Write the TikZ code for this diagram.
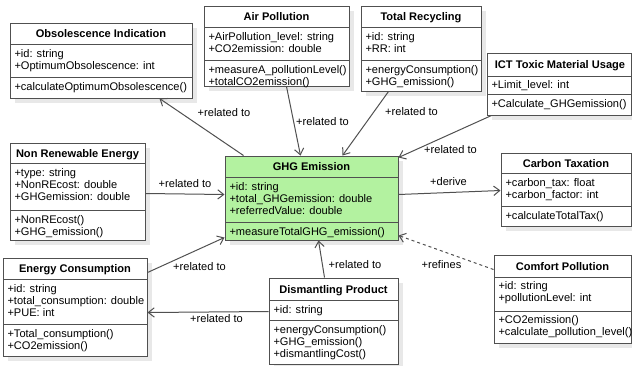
\documentclass[tikz,border=0pt]{standalone}
\usepackage{fontspec}
\setmainfont{Liberation Sans}
\usetikzlibrary{arrows.meta,calc,fit,shadows}

\definecolor{ghggreen}{RGB}{179,242,160}
\definecolor{umlline}{RGB}{80,80,80}
\newcommand\umlfont{\fontsize{8.3}{9.2}\selectfont}

\tikzset{every picture/.style={line width=0.75pt}}

\begin{document}
\begin{tikzpicture}[x=0.75pt,y=0.75pt,yscale=-1,xscale=1,
  classbox/.style={draw=umlline, fill=white, inner sep=0pt,
    drop shadow={shadow xshift=3.75pt, shadow yshift=-3.75pt, fill=black!9, opacity=1}},
  classtitle/.style={anchor=base, inner sep=0pt, font=\umlfont\bfseries},
  members/.style={anchor=north west, inner sep=0pt, align=left, font=\umlfont},
  rel/.style={inner sep=0pt, font=\umlfont},
  assoc/.style={draw=umlline, -{Straight Barb[length=4.5pt,width=7pt]}},
  refine/.style={assoc, dash pattern={on 2.25pt off 2.25pt}}]
\useasboundingbox (0,0) rectangle (632,365);

%Shape: Class [id:obs]
\node[classbox, fit={(10,23) (192,98)}] (obs) {};
\draw[umlline] (10,44) -- (192,44) (10,77) -- (192,77);
\node[classtitle] (obstitle) at (101,37.5) {Obsolescence Indication};
\node[members] (obsattr) at (14,48.5) {+id: string\\+OptimumObsolescence: int};
\node[members] (obsmeth) at (14,81.5) {+calculateOptimumObsolescence()};

%Shape: Class [id:air]
\node[classbox, fit={(204,6) (349,86)}] (air) {};
\draw[umlline] (204,27) -- (349,27) (204,60) -- (349,60);
\node[classtitle] (airtitle) at (276.5,20.5) {Air Pollution};
\node[members] (airattr) at (208,31.5) {+AirPollution\_level: string\\+CO2emission: double};
\node[members] (airmeth) at (208,64.5) {+measureA\_pollutionLevel()\\+totalCO2emission()};

%Shape: Class [id:tot]
\node[classbox, fit={(361,6) (481,91)}] (tot) {};
\draw[umlline] (361,27) -- (481,27) (361,60) -- (481,60);
\node[classtitle] (tottitle) at (421,20.5) {Total Recycling};
\node[members] (totattr) at (365,31.5) {+id: string\\+RR: int};
\node[members] (totmeth) at (365,64.5) {+energyConsumption()\\+GHG\_emission()};

%Shape: Class [id:ict]
\node[classbox, fit={(487,53) (631,115)}] (ict) {};
\draw[umlline] (487,76) -- (631,76) (487,94) -- (631,94);
\node[classtitle] (icttitle) at (560,68.5) {ICT Toxic Material Usage};
\node[members] (ictattr) at (491,80) {+Limit\_level: int};
\node[members] (ictmeth) at (491,98.5) {+Calculate\_GHGemission()};

%Shape: Class [id:nre]
\node[classbox, fit={(10,143) (145,240)}] (nre) {};
\draw[umlline] (10,163) -- (145,163) (10,210) -- (145,210);
\node[classtitle] (nretitle) at (77.5,157) {Non Renewable Energy};
\node[members] (nreattr) at (14,167.5) {+type: string\\+NonREcost: double\\+GHGemission: double};
\node[members] (nremeth) at (14,214.5) {+NonREcost()\\+GHG\_emission()};

%Shape: Class [id:ghg]
\node[classbox, fill=ghggreen, fit={(225,156) (398,240)}] (ghg) {};
\draw[umlline] (225,177) -- (398,177) (225,222) -- (398,222);
\node[classtitle] (ghgtitle) at (311.5,170.5) {GHG Emission};
\node[members] (ghgattr) at (229,181.5) {+id: string\\+total\_GHGemission: double\\+referredValue: double};
\node[members] (ghgmeth) at (229,226.5) {+measureTotalGHG\_emission()};

%Shape: Class [id:ctx]
\node[classbox, fit={(501,153) (631,226)}] (ctx) {};
\draw[umlline] (501,173) -- (631,173) (501,206) -- (631,206);
\node[classtitle] (ctxtitle) at (566,167) {Carbon Taxation};
\node[members] (ctxattr) at (505,177.5) {+carbon\_tax: float\\+carbon\_factor: int};
\node[members] (ctxmeth) at (505,210.5) {+calculateTotalTax()};

%Shape: Class [id:cmf]
\node[classbox, fit={(494,255) (631,343)}] (cmf) {};
\draw[umlline] (494,277) -- (631,277) (494,311) -- (631,311);
\node[classtitle] (cmftitle) at (562.5,270) {Comfort Pollution};
\node[members] (cmfattr) at (498,280.5) {+id: string\\+pollutionLevel: int};
\node[members] (cmfmeth) at (498,314.5) {+CO2emission()\\+calculate\_pollution\_level()};

%Shape: Class [id:enc]
\node[classbox, fit={(3,258) (147,356)}] (enc) {};
\draw[umlline] (3,279) -- (147,279) (3,324) -- (147,324);
\node[classtitle] (enctitle) at (75,272.5) {Energy Consumption};
\node[members] (encattr) at (7,283.5) {+id: string\\+total\_consumption: double\\+PUE: int};
\node[members] (encmeth) at (7,328.5) {+Total\_consumption()\\+CO2emission()};

%Shape: Class [id:dis]
\node[classbox, fit={(269,278) (398,364)}] (dis) {};
\draw[umlline] (269,300) -- (398,300) (269,320) -- (398,320);
\node[classtitle] (distitle) at (333.5,293) {Dismantling Product};
\node[members] (disattr) at (273,304.5) {+id: string};
\node[members] (dismeth) at (273,324.5) {+energyConsumption()\\+GHG\_emission()\\+dismantlingCost()};

%Straight Lines [id:relations]
\draw[assoc] ($(ghg.north west)+(19,0)$) -- ($(obs.south west)+(150,0)$);
\draw[assoc] ($(air.south west)+(83,0)$) -- ($(ghg.north west)+(76,0)$);
\draw[assoc] ($(tot.south west)+(28,0)$) -- ($(ghg.north west)+(118,0)$);
\draw[assoc] ($(ict.south west)+(5,0)$) -- ($(ghg.north east)+(0,2)$);
\draw[assoc] ($(nre.north east)+(0,51)$) -- ($(ghg.north west)+(0,39)$);
\draw[assoc] ($(ghg.north east)+(0,39)$) -- ($(ctx.north west)+(0,38)$);
\draw[assoc] ($(enc.north east)+(0,15)$) -- ($(ghg.south west)+(0,-3)$);
\draw[assoc] ($(dis.north west)+(0,34)$) -- ($(enc.north east)+(0,55)$);
\draw[assoc] ($(dis.north west)+(56,0)$) -- ($(ghg.south west)+(94,0)$);
\draw[refine] ($(cmf.north west)+(0,15)$) -- ($(ghg.south east)+(0,-5)$);

% Text Node
\node[rel] (relobs) at (224,113) {+related to};
\node[rel] (relair) at (322.5,121.5) {+related to};
\node[rel] (reltot) at (411.5,111.5) {+related to};
\node[rel] (relict) at (450.5,150) {+related to};
\node[rel] (relnre) at (185,183.5) {+related to};
\node[rel] (relctx) at (448.5,181.5) {+derive};
\node[rel] (relenc) at (199.5,266.5) {+related to};
\node[rel] (reldisenc) at (216.5,318.5) {+related to};
\node[rel] (reldis) at (355,265) {+related to};
\node[rel] (relcmf) at (441.5,265) {+refines};

\end{tikzpicture}
\end{document}
